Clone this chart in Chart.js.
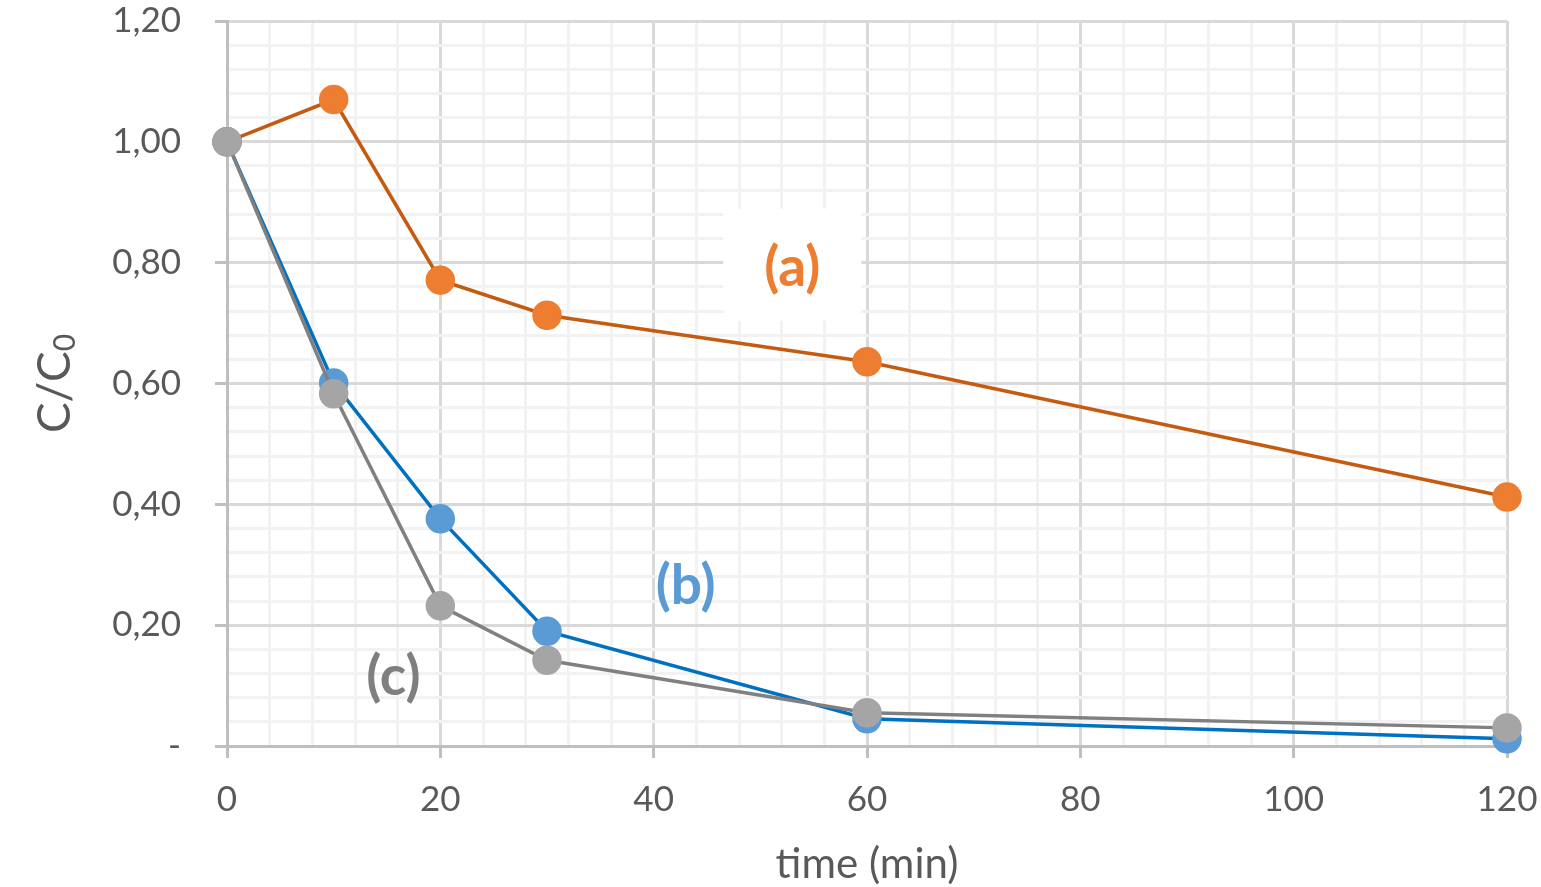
<!DOCTYPE html>
<html>
<head>
<meta charset="utf-8">
<script src="https://cdn.jsdelivr.net/npm/chart.js@4/dist/chart.umd.min.js"></script>
<style>
  html, body { margin: 0; padding: 0; background: #fff; }
  #wrap { width: 1541px; height: 887px; }
</style>
</head>
<body>
<div id="wrap"><canvas id="c"></canvas></div>
<script>
// sampling times (min)
var times = [0, 10, 20, 30, 60, 120];

// C/C0 for each run
var seriesA = [1.00, 1.07, 0.771, 0.713, 0.636, 0.412];
var seriesB = [1.00, 0.601, 0.376, 0.190, 0.045, 0.012];
var seriesC = [1.00, 0.583, 0.232, 0.142, 0.055, 0.030];

var xTickLabels = ['0', '20', '40', '60', '80', '100', '120'];
var yTickLabels = ['-', '0,20', '0,40', '0,60', '0,80', '1,00', '1,20'];

var noteText = ['(a)', '(b)', '(c)'];
var noteX = [53, 43, 15.6];
var noteY = [0.79, 0.265, 0.113];

var FONT = 'Lato, "Open Sans", sans-serif';
var TXT = '#595959';
var MAJOR = '#D9D9D9';
var MINOR = '#F2F2F2';
var AXIS = '#BFBFBF';

function pts(ys) {
  return times.map(function (t, i) { return { x: t, y: ys[i] }; });
}

function isMajor(ctx) {
  return ctx.index % 5 === 0;
}

// run labels and the y title with its subscript
var notesPlugin = {
  id: 'notes',
  beforeDatasetsDraw: function (chart) {
    var g = chart.ctx, xs = chart.scales.x, ys = chart.scales.y;
    var colors = ['#ED7D31', '#5B9BD5', '#7F7F7F'];
    g.save();
    g.font = 'bold 55px ' + FONT;
    g.textAlign = 'center';
    g.textBaseline = 'middle';
    noteText.forEach(function (t, i) {
      var px = xs.getPixelForValue(noteX[i]);
      var py = ys.getPixelForValue(noteY[i]);
      if (i === 0) {
        g.fillStyle = '#fff';
        g.fillRect(px - 69, py - 60, 138, 112);
      }
      g.fillStyle = colors[i];
      g.fillText(t, px, py);
    });
    g.restore();
  },
  afterDraw: function (chart) {
    var g = chart.ctx, area = chart.chartArea;
    g.save();
    g.translate(55, (area.top + area.bottom) / 2);
    g.rotate(-Math.PI / 2);
    g.fillStyle = TXT;
    g.textBaseline = 'middle';
    g.font = '46px ' + FONT;
    var main = 'C/C';
    var w = g.measureText(main).width;
    g.font = '30px ' + FONT;
    var ws = g.measureText('0').width;
    var x0 = -(w + ws) / 2;
    g.font = '46px ' + FONT;
    g.textAlign = 'left';
    g.fillText(main, x0, 0);
    g.font = '30px ' + FONT;
    g.fillText('0', x0 + w, 10);
    g.restore();
  }
};

new Chart(document.getElementById('c'), {
  type: 'line',
  data: {
    datasets: [{
      label: '(a)',
      data: pts(seriesA),
      borderColor: '#C55A11',
      backgroundColor: '#ED7D31',
      pointBackgroundColor: '#ED7D31',
      pointBorderColor: '#ED7D31',
      borderWidth: 3.5,
      pointRadius: 13,
      clip: false,
      order: 3
    }, {
      label: '(b)',
      data: pts(seriesB),
      borderColor: '#0070C0',
      backgroundColor: '#5B9BD5',
      pointBackgroundColor: '#5B9BD5',
      pointBorderColor: '#5B9BD5',
      borderWidth: 3.5,
      pointRadius: 13,
      clip: false,
      order: 2
    }, {
      label: '(c)',
      data: pts(seriesC),
      borderColor: '#808080',
      backgroundColor: '#A5A5A5',
      pointBackgroundColor: '#A5A5A5',
      pointBorderColor: '#A5A5A5',
      borderWidth: 3.5,
      pointRadius: 13,
      clip: false,
      order: 1
    }]
  },
  options: {
    responsive: true,
    maintainAspectRatio: false,
    animation: false,
    layout: { padding: { top: 21, right: 34, left: 0, bottom: 0 } },
    plugins: {
      legend: { display: false },
      tooltip: { enabled: false }
    },
    scales: {
      x: {
        type: 'linear',
        min: 0,
        max: 120,
        afterFit: function (s) {
          s.height = 141;
          s.paddingLeft = 0;
          s.paddingRight = 0;
        },
        ticks: {
          stepSize: 4,
          autoSkip: false,
          maxRotation: 0,
          padding: 21,
          color: TXT,
          font: { family: FONT, size: 35 },
          callback: function (v, i) { return i % 5 === 0 ? xTickLabels[i / 5] : ''; }
        },
        grid: {
          color: function (ctx) { return isMajor(ctx) ? MAJOR : MINOR; },
          lineWidth: 3,
          tickLength: 12,
          tickWidth: 3,
          tickColor: function (ctx) { return isMajor(ctx) ? AXIS : 'rgba(0,0,0,0)'; }
        },
        border: { color: AXIS, width: 3 },
        title: {
          display: true,
          text: 'time (min)',
          color: TXT,
          font: { family: FONT, size: 42, lineHeight: 1 },
          padding: { top: 0, bottom: 2 }
        }
      },
      y: {
        min: 0,
        max: 1.2,
        afterFit: function (s) {
          s.width = 227;
          s.paddingTop = 0;
          s.paddingBottom = 0;
        },
        ticks: {
          stepSize: 0.04,
          autoSkip: false,
          padding: 34,
          color: TXT,
          font: { family: FONT, size: 35 },
          callback: function (v, i) { return i % 5 === 0 ? yTickLabels[i / 5] : ''; }
        },
        grid: {
          color: function (ctx) { return isMajor(ctx) ? MAJOR : MINOR; },
          lineWidth: 3,
          tickLength: 12,
          tickWidth: 3,
          tickColor: function (ctx) { return isMajor(ctx) ? AXIS : 'rgba(0,0,0,0)'; }
        },
        border: { color: AXIS, width: 3 }
      }
    }
  },
  plugins: [notesPlugin]
});
</script>
</body>
</html>
